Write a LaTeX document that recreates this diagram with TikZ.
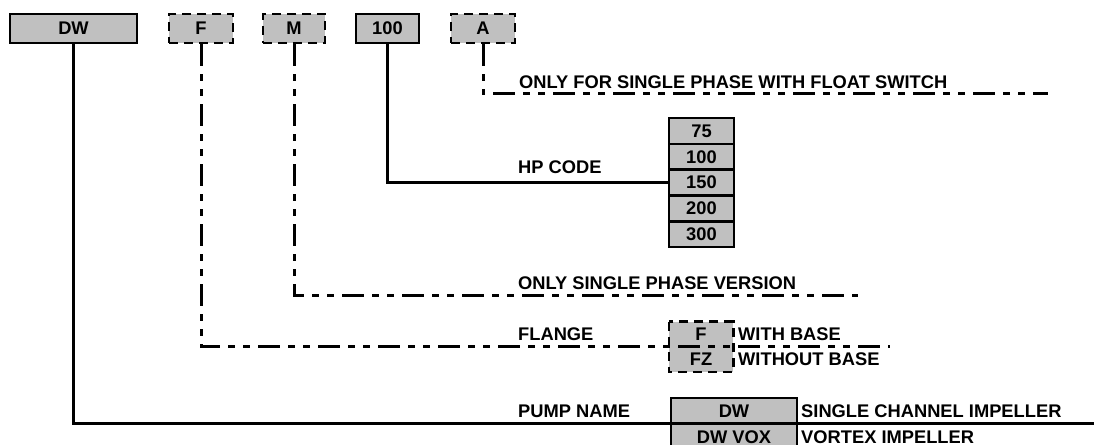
\documentclass[tikz,border=0pt]{standalone}
\usepackage{fontspec}
\setmainfont{Liberation Sans}
\definecolor{boxgray}{HTML}{C0C0C0}
\begin{document}
\begin{tikzpicture}[x=1bp,y=-1bp,
  every node/.style={font=\fontsize{18.3bp}{20bp}\selectfont\bfseries, inner sep=0pt},
  gbox/.style={draw, fill=boxgray, line width=2.6bp, minimum height=29bp},
  dbox/.style={gbox, dash pattern=on 9bp off 6bp},
  cell/.style={draw, fill=boxgray, line width=2.6bp, minimum width=65bp, minimum height=25.8bp},
  lbl/.style={anchor=base west},
  ln/.style={line width=3bp},
  dd/.style={line width=3bp, dash pattern=on 22bp off 8bp on 7bp off 8bp on 7bp off 8bp}]
\useasboundingbox (0,0) rectangle (1098,445);

% top code boxes
\node[gbox, minimum width=127bp] (dwtop) at (73.5,28.5) {DW};
\node[dbox, minimum width=64bp] (ftop) at (201,28.5) {F};
\node[dbox, minimum width=62bp] (mtop) at (294,28.5) {M};
\node[gbox, minimum width=63bp] (hptop) at (387.5,28.5) {100};
\node[dbox, minimum width=64bp] (atop) at (483,28.5) {A};

% HP code table
\node[cell] (hp75) at (701.5,131) {75};
\node[cell] (hp100) at (701.5,156.8) {100};
\node[cell] (hp150) at (701.5,182.6) {150};
\node[cell] (hp200) at (701.5,208.4) {200};
\node[cell] (hp300) at (701.5,234.2) {300};

% flange options (fill only, border drawn dashed)
\node[fill=boxgray, minimum width=64bp, minimum height=25bp] (fl1) at (701,334.5) {F};
\node[fill=boxgray, minimum width=64bp, minimum height=25bp] (fl2) at (701,359.5) {FZ};
\draw[line width=2.6bp, dash pattern=on 9bp off 6bp] (fl1.north west) rectangle (fl2.south east);

% pump name options
\node[cell, minimum width=126bp, minimum height=26bp] (pn1) at (734,411) {DW};
\node[cell, minimum width=126bp, minimum height=26bp] (pn2) at (734,437) {DW VOX};

% connectors
\coordinate (aend) at (1048,94);
\coordinate (mend) at (858,296);
\coordinate (fend) at (890,347);
\coordinate (dwend) at (1094,424);
\draw[dd] (atop.south) |- (aend);
\draw[ln] (hptop.south) |- (hp150.west);
\draw[dd] (mtop.south) |- (mend);
\draw[dd] (ftop.south) |- (fend);
\draw[ln] (dwtop.south) |- (dwend);

% labels
\node[lbl] (t1) at (519,89) {ONLY FOR SINGLE PHASE WITH FLOAT SWITCH};
\node[lbl] (t2) at (518,174) {HP CODE};
\node[lbl] (t3) at (518,290) {ONLY SINGLE PHASE VERSION};
\node[lbl] (t4) at (518,341) {FLANGE};
\node[lbl] (t5) at (738,341) {WITH BASE};
\node[lbl] (t6) at (738,366) {WITHOUT BASE};
\node[lbl] (t7) at (518,418) {PUMP NAME};
\node[lbl] (t8) at (801,418) {SINGLE CHANNEL IMPELLER};
\node[lbl] (t9) at (801,443) {VORTEX IMPELLER};
\end{tikzpicture}
\end{document}
